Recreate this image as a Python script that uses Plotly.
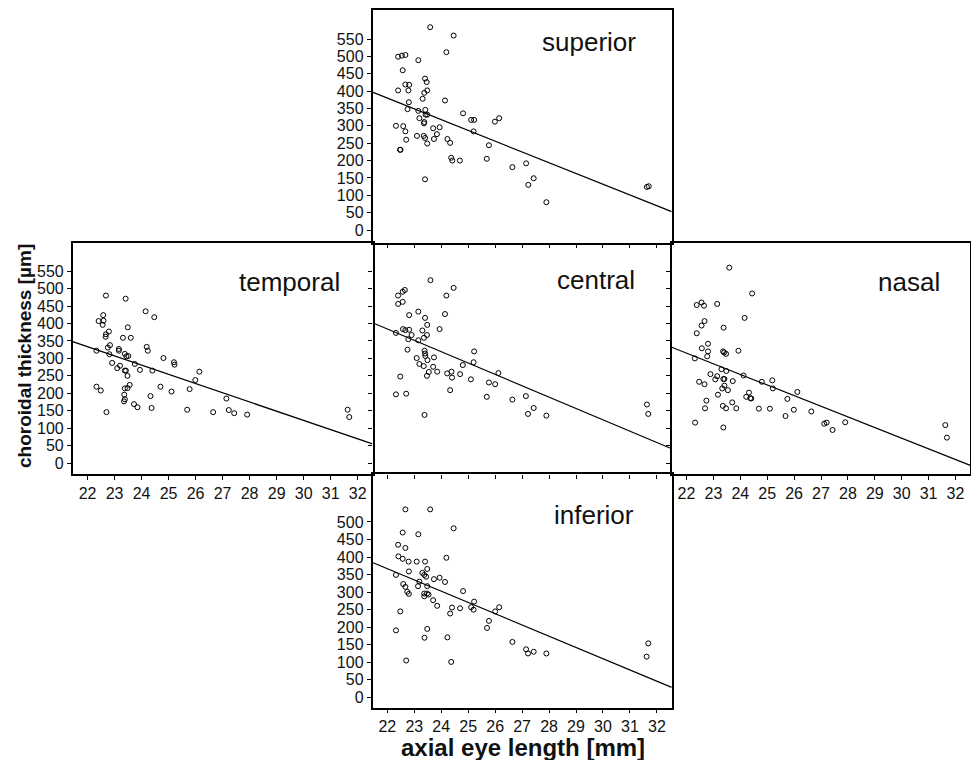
import plotly.graph_objects as go

# ---------------- data ----------------
sup_x = [23.59, 24.46, 24.19, 22.40, 22.54, 22.67, 23.15, 22.57, 23.40, 23.46, 22.67, 22.81, 22.40, 22.78,
         23.48, 23.37, 23.31, 22.80, 24.14, 22.75, 23.41, 23.15, 23.42, 23.48, 23.19, 24.81, 25.11, 25.22,
         25.99, 26.15, 23.37, 23.36, 22.32, 22.59, 22.67, 25.20, 23.70, 23.94, 23.84, 23.10, 23.35, 23.40,
         22.70, 23.73, 24.23, 24.33, 23.48, 25.77, 22.47, 22.49, 24.37, 24.41, 24.69, 25.69, 26.64, 27.15,
         23.40, 27.43, 27.23, 27.90, 31.63, 31.70]
sup_y = [584, 560, 512, 499, 502, 504, 489, 460, 436, 426, 419, 418, 402, 402, 402, 395, 378, 368, 373, 348,
         346, 343, 332, 332, 322, 336, 317, 317, 312, 322, 311, 307, 300, 299, 284, 284, 293, 296, 276, 271,
         271, 265, 260, 262, 262, 251, 249, 244, 231, 231, 208, 200, 200, 205, 181, 192, 146, 149, 130, 80,
         124, 126]

tem_x = [22.68, 23.41, 24.15, 24.47, 22.58, 22.41, 22.59, 22.56, 23.49, 22.79, 22.68, 22.67, 23.31, 23.60,
         22.83, 22.75, 22.33, 23.16, 23.16, 24.19, 24.23, 22.81, 23.38, 23.44, 23.51, 24.81, 25.20, 25.22,
         22.91, 23.20, 23.10, 23.75, 23.94, 23.38, 23.42, 24.40, 23.48, 26.14, 25.99, 22.33, 22.49, 23.38,
         23.48, 23.56, 24.70, 25.11, 25.78, 23.36, 24.33, 23.38, 23.35, 23.72, 23.85, 24.37, 22.70, 25.69,
         26.65, 27.14, 27.23, 27.43, 27.91, 31.63, 31.69]
tem_y = [480, 471, 435, 418, 424, 407, 408, 396, 389, 377, 369, 362, 359, 359, 338, 331, 322, 327, 322, 333,
         322, 312, 313, 306, 307, 301, 289, 282, 287, 279, 272, 284, 267, 265, 265, 265, 250, 262, 238, 219,
         208, 214, 215, 224, 219, 205, 212, 196, 192, 183, 177, 169, 160, 158, 146, 153, 146, 185, 152, 143,
         139, 153, 132]

cen_x = [23.60, 24.46, 22.65, 22.57, 22.40, 22.40, 22.57, 24.19, 24.14, 23.15, 22.81, 23.40, 23.48, 23.94,
         22.58, 22.67, 22.81, 23.30, 22.90, 23.47, 23.36, 22.78, 23.15, 22.32, 22.75, 23.38, 23.40, 23.41,
         23.49, 25.22, 25.20, 23.09, 23.73, 23.19, 23.35, 23.70, 24.80, 23.54, 23.85, 24.22, 24.38, 24.70,
         26.12, 23.47, 24.40, 25.10, 25.77, 26.00, 22.48, 22.32, 22.70, 24.33, 25.69, 26.64, 27.14, 27.43,
         27.22, 27.90, 23.38, 31.63, 31.68]
cen_y = [524, 502, 496, 491, 480, 456, 462, 480, 427, 434, 424, 416, 396, 384, 384, 381, 382, 380, 367, 367,
         359, 355, 352, 373, 325, 322, 314, 307, 295, 320, 289, 301, 303, 284, 278, 276, 281, 261, 262, 257,
         262, 255, 258, 250, 245, 240, 231, 226, 248, 197, 199, 209, 190, 182, 192, 158, 141, 136, 138, 168,
         141]

nas_x = [23.59, 24.44, 22.38, 22.56, 22.65, 23.14, 24.16, 22.67, 22.56, 23.38, 22.38, 22.80, 22.57, 22.80,
         23.36, 23.40, 23.47, 23.93, 22.77, 22.31, 23.30, 23.48, 22.89, 23.14, 23.07, 23.37, 23.41, 24.12,
         22.47, 22.67, 23.72, 24.80, 25.19, 25.21, 23.41, 23.33, 23.54, 23.17, 24.32, 24.22, 24.37, 24.41,
         26.12, 25.75, 22.74, 23.70, 23.35, 22.69, 23.47, 23.85, 24.69, 25.10, 25.99, 26.64, 25.68, 22.32,
         27.12, 27.21, 27.90, 27.43, 23.37, 31.62, 31.68]
nas_y = [560, 486, 453, 460, 451, 456, 416, 407, 394, 388, 372, 342, 329, 320, 320, 317, 313, 322, 306, 300,
         269, 264, 255, 249, 240, 241, 241, 251, 233, 226, 235, 233, 237, 214, 222, 214, 209, 196, 202, 190,
         186, 185, 204, 184, 179, 174, 164, 157, 157, 157, 156, 156, 153, 148, 135, 116, 113, 116, 117, 95,
         102, 109, 73]

inf_x = [22.67, 23.59, 24.46, 22.57, 23.15, 22.40, 22.67, 24.19, 22.41, 22.57, 22.79, 23.09, 23.40, 23.48,
         22.80, 22.32, 23.30, 23.37, 23.44, 23.73, 23.94, 24.14, 23.19, 23.14, 23.48, 22.59, 22.67, 22.74,
         22.80, 23.37, 23.47, 23.37, 23.53, 23.70, 23.85, 24.81, 25.22, 25.11, 25.20, 24.40, 24.70, 26.15,
         26.00, 24.33, 22.48, 25.77, 25.70, 22.32, 23.48, 23.38, 24.23, 26.64, 27.15, 27.22, 27.43, 27.90,
         22.70, 24.37, 31.68, 31.62]
inf_y = [536, 536, 482, 470, 465, 435, 426, 398, 402, 395, 387, 387, 387, 366, 359, 349, 355, 349, 344, 337,
         341, 329, 330, 317, 317, 323, 315, 301, 295, 296, 296, 288, 293, 277, 261, 303, 273, 257, 250, 256,
         254, 257, 245, 239, 245, 218, 198, 191, 195, 170, 171, 158, 137, 125, 130, 125, 105, 101, 154, 116]

# regression lines: intercept, slope
panel_names = ["superior", "temporal", "central", "nasal", "inferior"]
line_intercept = [1061.9, 914.3, 1099.1, 986.2, 1073.2]
line_slope = [-31.0, -26.4, -32.5, -30.5, -32.1]

x_ticks = list(range(22, 33))
y_ticks_full = list(range(0, 551, 50))
y_ticks_inf = list(range(0, 501, 50))

# ---------------- layout geometry ----------------
# the page body has an 8px margin, so the figure is drawn 8px smaller and
# positions below are given in window pixels, then shifted.
OFF = 8
W, H = 979 - OFF, 760 - OFF
def px(p):
    return (p - OFF) / W
def py(p):
    return 1 - (p - OFF) / H

col_dom = [[px(72.7), px(372.5)], [px(372.5), px(671.7)], [px(671.7), px(970.3)]]
row_dom = [[py(242.5), py(9.5)], [py(474.3), py(242.5)], [py(707.5), py(474.3)]]

XR = [21.45, 32.55]
# panel: (name, xs, ys, col, row, show_x_labels, show_y_labels, show_line, yrange, yticks, label pos px)
panels = [
    ("superior", sup_x, sup_y, 1, 0, False, True, True, [-36, 635], y_ticks_full, (638, 42)),
    ("temporal", tem_x, tem_y, 0, 1, True, True, True, [-32, 632], y_ticks_full, (342, 282)),
    ("central", cen_x, cen_y, 1, 1, False, False, False, [-32, 632], y_ticks_full, (637, 280)),
    ("nasal", nas_x, nas_y, 2, 1, True, False, True, [-32, 632], y_ticks_full, (942, 282)),
    ("inferior", inf_x, inf_y, 1, 2, True, True, True, [-29, 636], y_ticks_inf, (636, 515)),
]

FONT = "Liberation Sans, Arial, sans-serif"
fig = go.Figure()
layout = dict(width=W, height=H, margin=dict(l=0, r=0, t=0, b=0),
              paper_bgcolor="white", plot_bgcolor="white", showlegend=False,
              font=dict(family=FONT, color="#111"))
annotations = []

for i, (name, xs, ys, col, row, sxl, syl, sline, yr, yt, lab) in enumerate(panels):
    k = "" if i == 0 else str(i + 1)
    fig.add_trace(go.Scatter(x=xs, y=ys, mode="markers", xaxis="x" + k, yaxis="y" + k,
                             marker=dict(symbol="circle-open", size=5, color="black",
                                         line=dict(width=1, color="black")),
                             hoverinfo="x+y"))
    a, b = line_intercept[i], line_slope[i]
    fig.add_trace(go.Scatter(x=XR, y=[a + b * XR[0], a + b * XR[1]], mode="lines",
                             xaxis="x" + k, yaxis="y" + k,
                             line=dict(color="black", width=1.2), hoverinfo="skip"))
    common = dict(showline=sline, mirror=True, linecolor="black", linewidth=1.5,
                  ticks="outside", ticklen=4, tickwidth=1, tickcolor="black",
                  showgrid=False, zeroline=False,
                  tickfont=dict(family=FONT, size=16, color="#111"))
    layout["xaxis" + k] = dict(domain=col_dom[col], range=XR, anchor="y" + k,
                               tickvals=x_ticks, showticklabels=sxl, **common)
    layout["yaxis" + k] = dict(domain=row_dom[row], range=yr, anchor="x" + k,
                               tickvals=yt, showticklabels=syl, **common)
    annotations.append(dict(text=name, x=px(lab[0]), y=py(lab[1]), xref="paper", yref="paper",
                            xanchor="right", yanchor="middle", showarrow=False,
                            font=dict(family=FONT, size=26, color="#111")))

annotations.append(dict(text="<b>axial eye length [mm]</b>", x=px(523), y=py(747), xref="paper",
                        yref="paper", xanchor="center", yanchor="middle", showarrow=False,
                        font=dict(family=FONT, size=24, color="#111")))
annotations.append(dict(text="<b>choroidal thickness [µm]</b>", x=px(24), y=py(356), xref="paper",
                        yref="paper", xanchor="center", yanchor="middle", showarrow=False,
                        textangle=-90, font=dict(family=FONT, size=19, color="#111")))
layout["annotations"] = annotations
fig.update_layout(**layout)
fig.write_html("out.html")
